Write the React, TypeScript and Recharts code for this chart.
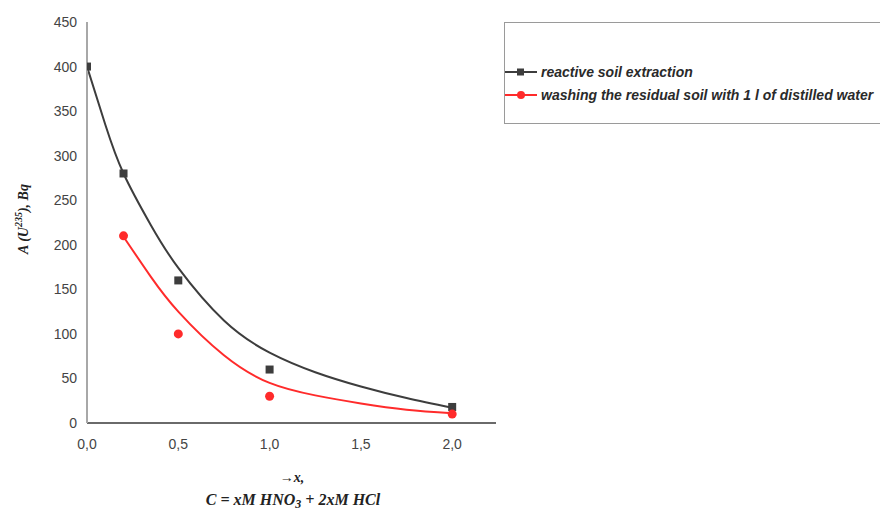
import React from 'react'
import {
  ComposedChart,
  Line,
  Scatter,
  XAxis,
  YAxis,
} from 'recharts'

// measured points
const xPoints = [0, 0.2, 0.5, 1.0, 2.0]
const extraction = [400, 280, 160, 60, 18]
const xWashing = [0.2, 0.5, 1.0, 2.0]
const washing = [210, 100, 30, 10]

// fitted curves
const xCurveA = [0, 0.1, 0.2, 0.35, 0.5, 0.75, 1.0, 1.25, 1.5, 1.75, 2.0]
const curveA = [400, 335, 280, 222, 174, 115, 79, 57, 41, 28, 17]
const xCurveB = [0.2, 0.35, 0.5, 0.75, 1.0, 1.25, 1.5, 1.75, 2.0]
const curveB = [209, 164, 125, 76, 45, 31, 22, 15, 11]

const xTicks = [0, 0.5, 1, 1.5, 2]
const yTicks = [0, 50, 100, 150, 200, 250, 300, 350, 400, 450]

const legendNames = [
  'reactive soil extraction',
  'washing the residual soil with 1 l of distilled water',
]

const BLACK = '#3d3d3d'
const RED = '#ff2b2b'

const pointsA = xPoints.map((x, i) => ({ x, y: extraction[i] }))
const pointsB = xWashing.map((x, i) => ({ x, y: washing[i] }))
const lineA = xCurveA.map((x, i) => ({ x, y: curveA[i] }))
const lineB = xCurveB.map((x, i) => ({ x, y: curveB[i] }))

const fmt = (v: number) => v.toFixed(1).replace('.', ',')

function SquareDot(props: any) {
  const { cx, cy } = props
  if (cx == null || cy == null) return null
  return <rect x={cx - 4} y={cy - 4} width={8} height={8} fill={BLACK} />
}

function RoundDot(props: any) {
  const { cx, cy } = props
  if (cx == null || cy == null) return null
  return <circle cx={cx} cy={cy} r={4.5} fill={RED} />
}

function LegendBox() {
  return (
    <div
      style={{
        position: 'absolute',
        left: 504,
        top: 22,
        width: 400,
        height: 102,
        border: '1px solid #9a9a9a',
        boxSizing: 'border-box',
      }}
    >
      {legendNames.map((name, i) => (
        <div
          key={name}
          style={{
            position: 'absolute',
            left: 0,
            top: 41 + i * 23,
            display: 'flex',
            alignItems: 'center',
            height: 16,
            whiteSpace: 'nowrap',
          }}
        >
          <svg width={34} height={16}>
            <line x1={0} y1={8} x2={32} y2={8} stroke={i === 0 ? BLACK : RED} strokeWidth={2} />
            {i === 0 ? (
              <rect x={12} y={4.5} width={7} height={7} fill={BLACK} />
            ) : (
              <circle cx={16} cy={8} r={4} fill={RED} />
            )}
          </svg>
          <span
            style={{
              fontFamily: '"Liberation Sans", Arial, sans-serif',
              fontSize: 14,
              fontWeight: 'bold',
              fontStyle: 'italic',
              color: '#2a2a2a',
              marginLeft: 2,
            }}
          >
            {name}
          </span>
        </div>
      ))}
    </div>
  )
}

export default function App() {
  const tickStyle = {
    fontFamily: '"Liberation Sans", Arial, sans-serif',
    fontSize: 14,
    fill: '#444',
  }
  const titleStyle: React.CSSProperties = {
    fontFamily: '"Liberation Serif", "Times New Roman", serif',
    fontWeight: 'bold',
    fontStyle: 'italic',
    fill: '#222',
  }
  return (
    <div style={{ position: 'absolute', left: 0, top: 0, width: 880, height: 510, overflow: 'hidden', background: '#fff' }}>
      <ComposedChart
        width={880}
        height={510}
        margin={{ top: 22, right: 384, bottom: 57, left: 27 }}
      >
        <XAxis
          type="number"
          dataKey="x"
          domain={[0, 2.24]}
          ticks={xTicks}
          tickFormatter={fmt}
          tickLine={false}
          tickSize={0}
          tickMargin={16}
          tick={tickStyle}
          height={30}
          axisLine={{ stroke: '#6a6a6a', strokeWidth: 2 }}
          allowDataOverflow
        />
        <YAxis
          type="number"
          dataKey="y"
          width={60}
          domain={[0, 450]}
          ticks={yTicks}
          tickLine={false}
          tickSize={0}
          tickMargin={10}
          tick={tickStyle}
          axisLine={{ stroke: '#a8a8a8', strokeWidth: 2 }}
        />
        <Line
          data={lineA}
          dataKey="y"
          type="natural"
          stroke={BLACK}
          strokeWidth={2}
          dot={false}
          activeDot={false}
          isAnimationActive={false}
        />
        <Line
          data={lineB}
          dataKey="y"
          type="natural"
          stroke={RED}
          strokeWidth={2}
          dot={false}
          activeDot={false}
          isAnimationActive={false}
        />
        <Scatter
          data={pointsA}
          dataKey="y"
          shape={<SquareDot />}
          isAnimationActive={false}
        />
        <Scatter
          data={pointsB}
          dataKey="y"
          shape={<RoundDot />}
          isAnimationActive={false}
        />
        <text
          transform="translate(28,219) rotate(-90)"
          textAnchor="middle"
          fontSize={14}
          style={titleStyle}
        >
          A (U
          <tspan fontSize={10} dy={-6}>235</tspan>
          <tspan dy={6}>), Bq</tspan>
        </text>
        <text x={292} y={482} textAnchor="middle" fontSize={14} style={titleStyle}>
          →x,
        </text>
        <text x={293} y={505} textAnchor="middle" fontSize={16} style={titleStyle}>
          C = xM HNO
          <tspan fontSize={12} dy={3}>3</tspan>
          <tspan dy={-3}> + 2xM HCl</tspan>
        </text>
      </ComposedChart>
      <LegendBox />
    </div>
  )
}
